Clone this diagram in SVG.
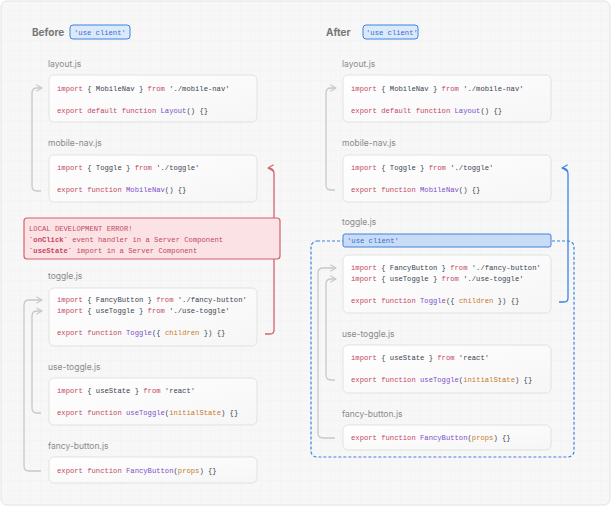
<svg xmlns="http://www.w3.org/2000/svg" width="612" height="507" viewBox="0 0 612 507">
<defs>
<pattern id="g" width="10" height="10" patternUnits="userSpaceOnUse"><path d="M10 0H0V10" fill="none" stroke="#ececec" stroke-width="0.6"/></pattern>
<linearGradient id="bx" x1="0" y1="0" x2="1" y2="1"><stop offset="0" stop-color="#ffffff"/><stop offset="1" stop-color="#f6f6f6"/></linearGradient>
<marker id="ag" viewBox="0 0 10 10" refX="9" refY="5" markerWidth="8" markerHeight="8" orient="auto" markerUnits="userSpaceOnUse"><path d="M2 1L9 5L2 9" fill="none" stroke="#c8c8c8" stroke-width="1.5"/></marker>
<marker id="ar" viewBox="0 0 10 10" refX="9" refY="5" markerWidth="8" markerHeight="8" orient="auto" markerUnits="userSpaceOnUse"><path d="M2 1L9 5L2 9" fill="none" stroke="#d5606e" stroke-width="1.5"/></marker>
<marker id="ab" viewBox="0 0 10 10" refX="9" refY="5" markerWidth="8" markerHeight="8" orient="auto" markerUnits="userSpaceOnUse"><path d="M2 1L9 5L2 9" fill="none" stroke="#3d82e0" stroke-width="1.5"/></marker>
</defs>
<style>
.box{fill:url(#bx);stroke:#dcdcdc;stroke-width:0.8}
.lbl{font-family:"Inter","Liberation Sans",sans-serif;font-size:8.5px;fill:#8a8a8a}
.hd{font-family:"Inter","Liberation Sans",sans-serif;font-size:10px;font-weight:700;fill:#777}
.c{font-family:"Liberation Mono","DejaVu Sans Mono",monospace;font-size:7.2px;fill:#3a4450}
.k{fill:#c5475f}.f{fill:#7b4fc9}.p{fill:#c47b2a}
.cn{fill:none;stroke:#c8c8c8;stroke-width:1.3}
.badge{font-family:"Liberation Mono",monospace;font-size:7.2px;fill:#2f6fd0}
</style>
<rect x="1" y="1" width="609" height="504" rx="6" fill="#f7f7f7" stroke="#e2e2e2"/>
<rect x="1" y="1" width="609" height="504" rx="6" fill="url(#g)"/>

<g id="before-head">
<text class="hd" x="32" y="36">Before</text>
<rect x="70" y="25" width="60" height="14" rx="3" fill="#dce9fb" stroke="#3d82e0" stroke-width="1"/>
<text class="badge" x="74" y="35">'use client'</text>
</g>
<g id="after-head">
<text class="hd" x="326" y="36">After</text>
<rect x="363" y="25" width="55" height="14" rx="3" fill="#dce9fb" stroke="#3d82e0" stroke-width="1"/>
<text class="badge" x="366" y="35">'use client'</text>
</g>

<g id="connectors">
<path class="cn" d="M41 191H37Q32 191 32 186V93Q32 88 37 88H42" marker-end="url(#ag)"/>
<path class="cn" d="M41 471H29Q24 471 24 466V305Q24 300 29 300H42" marker-end="url(#ag)"/>
<path class="cn" d="M41 413H37Q32 413 32 408V316Q32 311 37 311H42" marker-end="url(#ag)"/>
<path d="M265 334H270Q274 334 274 330V174Q274 168 268 168" fill="none" stroke="#d5606e" stroke-width="1.3" marker-end="url(#ar)"/>
<path class="cn" d="M335 190H331Q326 190 326 185V93Q326 88 331 88H336" marker-end="url(#ag)"/>
<path class="cn" d="M335 438H323Q318 438 318 433V273Q318 268 323 268H336" marker-end="url(#ag)"/>
<path class="cn" d="M335 380H331Q326 380 326 375V284Q326 279 331 279H336" marker-end="url(#ag)"/>
<path d="M559 302H564Q568 302 568 298V174Q568 168 562 168" fill="none" stroke="#3d82e0" stroke-width="1.3" marker-end="url(#ab)"/>
</g>

<g id="b-layout">
<text class="lbl" x="48" y="67">layout.js</text>
<rect class="box" x="49" y="75" width="208" height="47" rx="5"/>
<text class="c" x="57" y="91"><tspan class="k">import</tspan> { MobileNav } <tspan class="k">from</tspan> './mobile-nav'</text>
<text class="c" x="57" y="113"><tspan class="k">export default function</tspan> <tspan class="f">Layout</tspan>() {}</text>
</g>
<g id="b-mobile">
<text class="lbl" x="48" y="146">mobile-nav.js</text>
<rect class="box" x="49" y="155" width="208" height="47" rx="5"/>
<text class="c" x="57" y="170"><tspan class="k">import</tspan> { Toggle } <tspan class="k">from</tspan> './toggle'</text>
<text class="c" x="57" y="192"><tspan class="k">export function</tspan> <tspan class="f">MobileNav</tspan>() {}</text>
</g>
<g id="b-error">
<rect x="24" y="218" width="256" height="41" rx="3" fill="#fbe3e5" stroke="#d5606e" stroke-width="1.2"/>
<text class="c" x="29" y="231" style="fill:#c5475f">LOCAL DEVELOPMENT ERROR!</text>
<text class="c" x="29" y="242" style="fill:#c5475f"><tspan font-weight="700">`onClick`</tspan> event handler in a Server Component</text>
<text class="c" x="29" y="253" style="fill:#c5475f"><tspan font-weight="700">`useState`</tspan> import in a Server Component</text>
</g>
<g id="b-toggle">
<text class="lbl" x="48" y="279">toggle.js</text>
<rect class="box" x="49" y="288" width="208" height="58" rx="5"/>
<text class="c" x="57" y="302"><tspan class="k">import</tspan> { FancyButton } <tspan class="k">from</tspan> './fancy-button'</text>
<text class="c" x="57" y="313"><tspan class="k">import</tspan> { useToggle } <tspan class="k">from</tspan> './use-toggle'</text>
<text class="c" x="57" y="335"><tspan class="k">export function</tspan> <tspan class="f">Toggle</tspan>({ <tspan class="p">children</tspan> }) {}</text>
</g>
<g id="b-usetoggle">
<text class="lbl" x="48" y="370">use-toggle.js</text>
<rect class="box" x="49" y="378" width="208" height="47" rx="5"/>
<text class="c" x="57" y="393"><tspan class="k">import</tspan> { useState } <tspan class="k">from</tspan> 'react'</text>
<text class="c" x="57" y="415"><tspan class="k">export function</tspan> <tspan class="f">useToggle</tspan>(<tspan class="p">initialState</tspan>) {}</text>
</g>
<g id="b-fancy">
<text class="lbl" x="48" y="449">fancy-button.js</text>
<rect class="box" x="49" y="457" width="208" height="26" rx="5"/>
<text class="c" x="57" y="473"><tspan class="k">export function</tspan> <tspan class="f">FancyButton</tspan>(<tspan class="p">props</tspan>) {}</text>
</g>

<g id="a-layout">
<text class="lbl" x="342" y="67">layout.js</text>
<rect class="box" x="343" y="75" width="208" height="47" rx="5"/>
<text class="c" x="351" y="91"><tspan class="k">import</tspan> { MobileNav } <tspan class="k">from</tspan> './mobile-nav'</text>
<text class="c" x="351" y="113"><tspan class="k">export default function</tspan> <tspan class="f">Layout</tspan>() {}</text>
</g>
<g id="a-mobile">
<text class="lbl" x="342" y="146">mobile-nav.js</text>
<rect class="box" x="343" y="155" width="208" height="47" rx="5"/>
<text class="c" x="351" y="170"><tspan class="k">import</tspan> { Toggle } <tspan class="k">from</tspan> './toggle'</text>
<text class="c" x="351" y="192"><tspan class="k">export function</tspan> <tspan class="f">MobileNav</tspan>() {}</text>
</g>
<g id="a-client">
<text class="lbl" x="342" y="225">toggle.js</text>
<rect x="311" y="241" width="263" height="216" rx="6" fill="none" stroke="#3d82e0" stroke-width="1.2" stroke-dasharray="3 2"/>
<rect x="343" y="234" width="208" height="13" rx="2" fill="#c9dcf6" stroke="#3d82e0" stroke-width="1"/>
<text class="badge" x="347" y="243">'use client'</text>
</g>
<g id="a-toggle">
<rect class="box" x="343" y="255" width="208" height="58" rx="5"/>
<text class="c" x="351" y="270"><tspan class="k">import</tspan> { FancyButton } <tspan class="k">from</tspan> './fancy-button'</text>
<text class="c" x="351" y="281"><tspan class="k">import</tspan> { useToggle } <tspan class="k">from</tspan> './use-toggle'</text>
<text class="c" x="351" y="303"><tspan class="k">export function</tspan> <tspan class="f">Toggle</tspan>({ <tspan class="p">children</tspan> }) {}</text>
</g>
<g id="a-usetoggle">
<text class="lbl" x="342" y="337">use-toggle.js</text>
<rect class="box" x="343" y="345" width="208" height="48" rx="5"/>
<text class="c" x="351" y="360"><tspan class="k">import</tspan> { useState } <tspan class="k">from</tspan> 'react'</text>
<text class="c" x="351" y="382"><tspan class="k">export function</tspan> <tspan class="f">useToggle</tspan>(<tspan class="p">initialState</tspan>) {}</text>
</g>
<g id="a-fancy">
<text class="lbl" x="342" y="417">fancy-button.js</text>
<rect class="box" x="343" y="425" width="208" height="25" rx="5"/>
<text class="c" x="351" y="440"><tspan class="k">export function</tspan> <tspan class="f">FancyButton</tspan>(<tspan class="p">props</tspan>) {}</text>
</g>
</svg>
